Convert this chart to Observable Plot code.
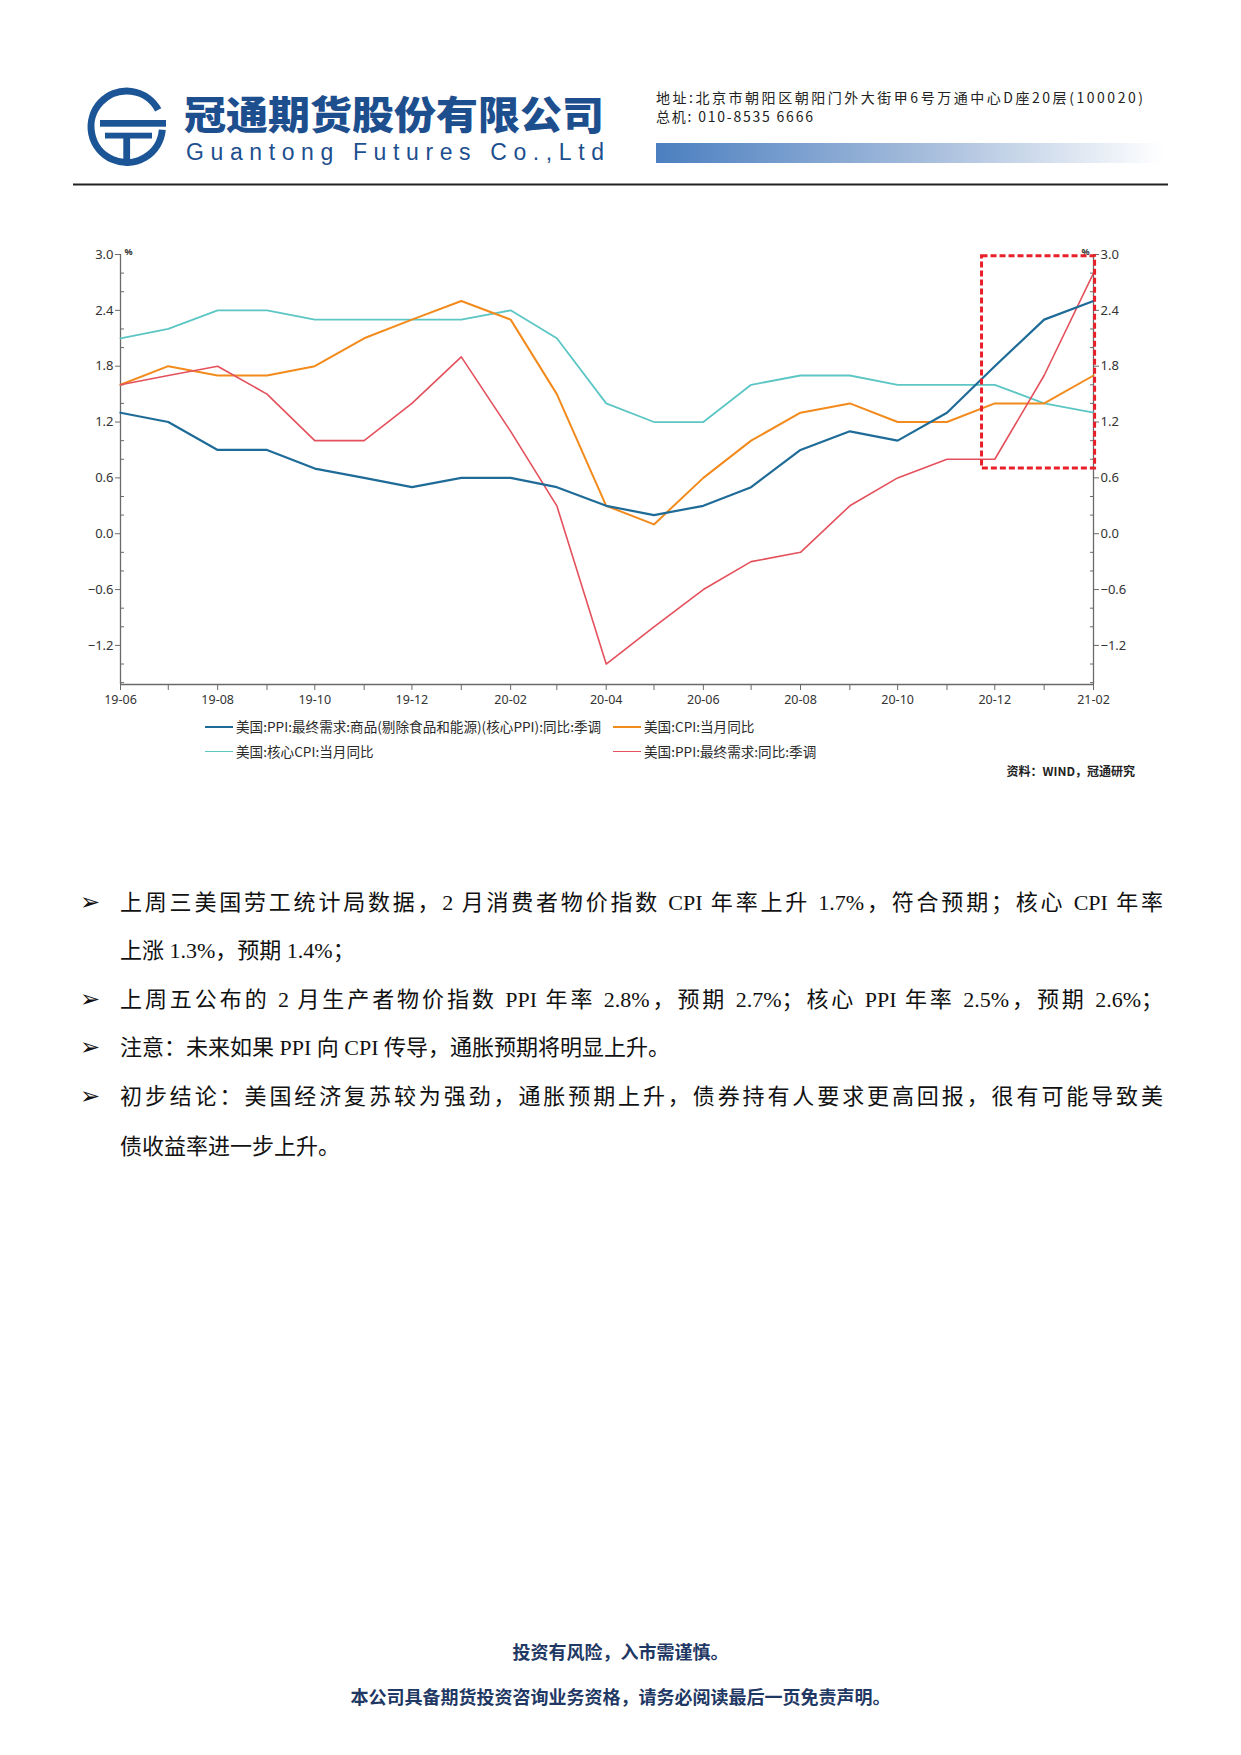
<!DOCTYPE html>
<html><head><meta charset="utf-8">
<script src="https://cdn.jsdelivr.net/npm/d3@7"></script>
<script src="https://cdn.jsdelivr.net/npm/@observablehq/plot@0.6"></script>
<style>
html,body{margin:0;padding:0;background:#fff}
body{width:1241px;height:1755px;position:relative;overflow:hidden;font-family:"Noto Sans CJK SC","Noto Sans",sans-serif;color:#222}
.abs{position:absolute;white-space:nowrap}
.legend{font-family:"Noto Sans CJK SC",sans-serif;font-size:13.6px;color:#2a2a2a;line-height:1;display:flex;align-items:center}
.sw{display:inline-block;width:28px;margin-right:3px}
.body-line{font-family:"Liberation Serif","Noto Sans CJK SC",serif;font-size:22px;line-height:1;color:#111}
.just{width:1043px;text-align:justify;text-align-last:justify}
.bullet{font-family:"DejaVu Sans",sans-serif;font-size:24px;line-height:1;color:#111}
.foot{font-size:18px;font-weight:700;color:#1f3864;width:1241px;text-align:center;line-height:1}
</style></head><body>

<svg class="abs" style="left:0;top:0" width="1241" height="200">
  <defs>
    <linearGradient id="gb" x1="0" x2="1" y1="0" y2="0">
      <stop offset="0" stop-color="#4b7fc0"/>
      <stop offset="0.55" stop-color="#a9bfdd"/>
      <stop offset="1" stop-color="#ffffff"/>
    </linearGradient>
  </defs>
  <path d="M 158.2 109.9 A 35.7 35.7 0 1 0 162.3 129.8" fill="none" stroke="#1c5596" stroke-width="7"/>
  <rect x="100" y="120" width="66" height="6.7" fill="#1c5596"/>
  <rect x="105" y="132.7" width="47" height="5.8" fill="#1c5596"/>
  <rect x="123.3" y="138" width="6.8" height="22" fill="#1c5596"/>
  <text x="184" y="129" font-family="Noto Sans CJK SC" font-weight="900" font-size="39" fill="#1d4f8f" textLength="420" lengthAdjust="spacingAndGlyphs">冠通期货股份有限公司</text>
  <text x="186" y="160" font-family="Liberation Sans" font-size="23" fill="#1d4f8f" textLength="418" lengthAdjust="spacing">Guantong Futures Co.,Ltd</text>
  <text x="656" y="103" font-family="Noto Sans CJK SC" font-size="14" fill="#222" textLength="487" lengthAdjust="spacing">地址:北京市朝阳区朝阳门外大街甲6号万通中心D座20层(100020)</text>
  <text x="656" y="122" font-family="Noto Sans CJK SC" font-size="14" fill="#222" textLength="157" lengthAdjust="spacing">总机: 010-8535 6666</text>
  <rect x="656" y="143" width="507" height="20" fill="url(#gb)"/>
  <rect x="73" y="183.5" width="1095" height="2" fill="#222"/>
</svg>

<div id="chart" class="abs" style="left:0;top:220px"></div>

<div class="abs legend" style="left:205px;top:720px"><span class="sw" style="border-top:2.6px solid #1f6b98"></span>美国:PPI:最终需求:商品(剔除食品和能源)(核心PPI):同比:季调</div>
<div class="abs legend" style="left:613px;top:720px"><span class="sw" style="border-top:2.6px solid #f28a1c"></span>美国:CPI:当月同比</div>
<div class="abs legend" style="left:205px;top:745px"><span class="sw" style="border-top:1.6px solid #5cc6c4"></span>美国:核心CPI:当月同比</div>
<div class="abs legend" style="left:613px;top:745px"><span class="sw" style="border-top:1.6px solid #e4505c"></span>美国:PPI:最终需求:同比:季调</div>
<div class="abs" style="right:106px;top:762px;font-size:12px;font-weight:700;color:#222">资料：WIND，冠通研究</div>

<div class="abs bullet" style="left:80px;top:890px">➢</div>
<div class="abs body-line just" style="left:120px;top:892px">上周三美国劳工统计局数据，2 月消费者物价指数 CPI 年率上升 1.7%，符合预期；核心 CPI 年率</div>
<div class="abs body-line" style="left:120px;top:940px">上涨 1.3%，预期 1.4%；</div>
<div class="abs bullet" style="left:80px;top:987px">➢</div>
<div class="abs body-line just" style="left:120px;top:989px">上周五公布的 2 月生产者物价指数 PPI 年率 2.8%，预期 2.7%；核心 PPI 年率 2.5%，预期 2.6%；</div>
<div class="abs bullet" style="left:80px;top:1035px">➢</div>
<div class="abs body-line" style="left:120px;top:1037px">注意：未来如果 PPI 向 CPI 传导，通胀预期将明显上升。</div>
<div class="abs bullet" style="left:80px;top:1084px">➢</div>
<div class="abs body-line just" style="left:120px;top:1086px">初步结论：美国经济复苏较为强劲，通胀预期上升，债券持有人要求更高回报，很有可能导致美</div>
<div class="abs body-line" style="left:120px;top:1136px">债收益率进一步上升。</div>

<div class="abs foot" style="left:0;top:1642px">投资有风险，入市需谨慎。</div>
<div class="abs foot" style="left:0;top:1687px">本公司具备期货投资咨询业务资格，请务必阅读最后一页免责声明。</div>

<script>
// ---- data ----
const months = ["2019-06","2019-07","2019-08","2019-09","2019-10","2019-11","2019-12",
  "2020-01","2020-02","2020-03","2020-04","2020-05","2020-06","2020-07","2020-08",
  "2020-09","2020-10","2020-11","2020-12","2021-01","2021-02"];
const corePPI = [1.3,1.2,0.9,0.9,0.7,0.6,0.5,0.6,0.6,0.5,0.3,0.2,0.3,0.5,0.9,1.1,1.0,1.3,1.8,2.3,2.5];
const cpi     = [1.6,1.8,1.7,1.7,1.8,2.1,2.3,2.5,2.3,1.5,0.3,0.1,0.6,1.0,1.3,1.4,1.2,1.2,1.4,1.4,1.7];
const coreCPI = [2.1,2.2,2.4,2.4,2.3,2.3,2.3,2.3,2.4,2.1,1.4,1.2,1.2,1.6,1.7,1.7,1.6,1.6,1.6,1.4,1.3];
const ppi     = [1.6,1.7,1.8,1.5,1.0,1.0,1.4,1.9,1.1,0.3,-1.4,-1.0,-0.6,-0.3,-0.2,0.3,0.6,0.8,0.8,1.7,2.8];
const seriesNames = ["美国:PPI:最终需求:商品(剔除食品和能源)(核心PPI):同比:季调","美国:CPI:当月同比","美国:核心CPI:当月同比","美国:PPI:最终需求:同比:季调"];
const yMajorTicks = [-1.2,-0.6,0.0,0.6,1.2,1.8,2.4,3.0];
const yDomain = [-1.62, 3.0];
const highlightX = ["2020-11-23","2021-02-02"];
const highlightY = [0.7, 2.98];

// ---- build ----
const parse = d3.utcParse("%Y-%m");
const parseDay = d3.utcParse("%Y-%m-%d");
const dates = months.map(parse);
const colors = ["#1f6b98","#f28a1c","#5cc6c4","#e4505c"];
const widths = [2.2,2.0,1.8,1.6];
const values = [corePPI, cpi, coreCPI, ppi];
const series = values.map((v,k)=>v.map((y,i)=>({date:dates[i], value:y, name:seriesNames[k]})));
const yMinor = d3.range(-16, 31, 2).map(v=>v/10).filter(v=>Math.abs(Math.round(v*10)%6)!==0);
const xDomain = [dates[0], dates[dates.length-1]];
const fmt = d3.utcFormat("%y-%m");
const axisColor = "#6a6a6a";

const drawOrder = [2,1,3,0];
const chart = Plot.plot({
  width: 1241, height: 500,
  marginLeft: 120, marginRight: 148, marginTop: 34, marginBottom: 36,
  style: {fontFamily: "'Noto Sans', 'DejaVu Sans', sans-serif", fontSize: "12.5px", color: "#333", background: "transparent"},
  x: {type: "utc", domain: xDomain},
  y: {domain: yDomain},
  marks: [
    Plot.ruleX(xDomain, {stroke: axisColor, strokeWidth: 1.3}),
    Plot.ruleY([yDomain[0]], {stroke: axisColor, strokeWidth: 1.3}),
    Plot.axisY({anchor: "left", ticks: yMajorTicks, tickFormat: d3.format(".1f"), tickSize: 5, tickPadding: 2, stroke: axisColor, label: null, fontSize: 13}),
    Plot.axisY({anchor: "left", ticks: yMinor, tickFormat: () => "", tickSize: 4, dx: 4, stroke: axisColor, label: null}),
    Plot.axisY({anchor: "right", ticks: yMajorTicks, tickFormat: d3.format(".1f"), tickSize: 5, tickPadding: 2, stroke: axisColor, label: null, fontSize: 13}),
    Plot.axisY({anchor: "right", ticks: yMinor, tickFormat: () => "", tickSize: 4, dx: -4, stroke: axisColor, label: null}),
    Plot.axisX({ticks: dates, tickFormat: d => d.getUTCMonth() % 2 === 1 ? fmt(d) : "", tickSize: 6, tickPadding: 5, stroke: axisColor, label: null, fontSize: 12.5}),
    Plot.text(["%"], {x: () => xDomain[0], y: () => yDomain[1], dx: 4, dy: -2, textAnchor: "start", fontSize: 9, fontWeight: 700}),
    Plot.text(["%"], {x: () => xDomain[1], y: () => yDomain[1], dx: -4, dy: -2, textAnchor: "end", fontSize: 9, fontWeight: 700}),
    ...drawOrder.map(k => Plot.line(series[k], {x: "date", y: "value", stroke: colors[k], strokeWidth: widths[k]})),
    Plot.rect([0], {x1: () => parseDay(highlightX[0]), x2: () => parseDay(highlightX[1]), y1: () => highlightY[0], y2: () => highlightY[1],
      fill: "none", stroke: "#e8202a", strokeWidth: 3, strokeDasharray: "6,3"})
  ]
});
document.getElementById("chart").appendChild(chart);
</script>
</body></html>
